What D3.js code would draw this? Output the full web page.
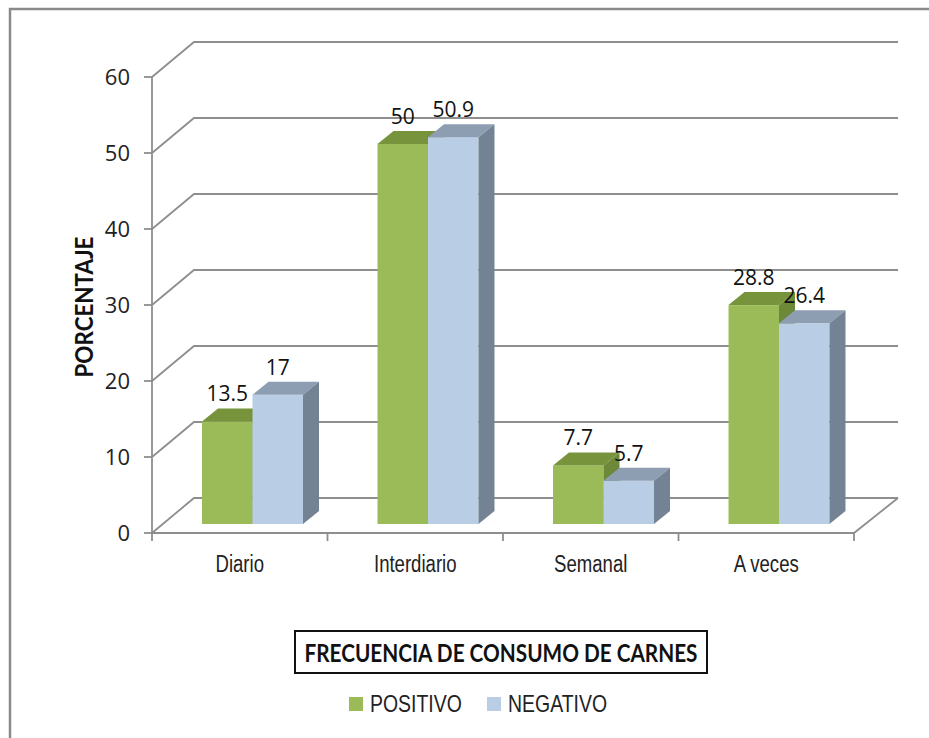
<!DOCTYPE html>
<html>
<head>
<meta charset="utf-8">
<title>Frecuencia de consumo de carnes</title>
<script src="https://cdn.jsdelivr.net/npm/d3@7"></script>
<style>
  body { margin: 0; background: #fff; }
  svg { display: block; }
</style>
</head>
<body>
<div id="chart"></div>
<script>
// data
var categories = ["Diario", "Interdiario", "Semanal", "A veces"];
var seriesNames = ["POSITIVO", "NEGATIVO"];
var positivo = [13.5, 50, 7.7, 28.8];
var negativo = [17, 50.9, 5.7, 26.4];
var yTicks = [0, 10, 20, 30, 40, 50, 60];

(function () {
  "use strict";

  var W = 929, H = 738;
  var svg = d3.select("#chart").append("svg").attr("width", W).attr("height", H);

  // wall depth (oblique projection) and bar offsets
  var DX = 42, DY = -35;
  var ox = 12, oy = -9;     // front plane of the bars
  var bx = 16, by = -13;    // bar depth

  var x0 = d3.scaleBand().domain(categories).range([152, 854]);
  var x1 = d3.scaleBand().domain(seriesNames).range([38, 139]);
  var y = d3.scaleLinear().domain([0, 60]).range([533, 77]);

  var colors = {
    POSITIVO: {front: "#9BBB59", top: "#77933C", side: "#6C8838"},
    NEGATIVO: {front: "#B9CDE5", top: "#8E9EB2", side: "#748393"}
  };

  var narrowFont = "'Liberation Sans', Arial, sans-serif";
  // no Arial Narrow here: squeeze the regular face
  function squeeze(k) {
    return function (sel) {
      sel.each(function () {
        var len = this.getComputedTextLength();
        d3.select(this).attr("textLength", len * k).attr("lengthAdjust", "spacingAndGlyphs");
      });
    };
  }

  // outer frame (only top and left visible)
  svg.append("path")
    .attr("d", "M10,738 L10,9 L929,9")
    .attr("fill", "none").attr("stroke", "#8a8a8a").attr("stroke-width", 2.5);

  var grid = svg.append("g").attr("fill", "none").attr("stroke", "#8E8E8E").attr("stroke-width", 1.8);
  var xl = x0.range()[0], xr = x0.range()[1];

  yTicks.forEach(function (t) {
    var yy = y(t);
    grid.append("path").attr("d", "M" + xl + "," + yy + " L" + (xl + DX) + "," + (yy + DY) + " L" + (xr + DX + 2) + "," + (yy + DY));
    grid.append("path").attr("d", "M" + (xl - 8) + "," + yy + " L" + xl + "," + yy);
  });
  // floor right edge + front edge
  grid.append("path").attr("d", "M" + (xr + DX + 2) + "," + (y(0) + DY) + " L" + xr + "," + y(0) + " L" + xl + "," + y(0));
  // vertical axis
  grid.append("path").attr("d", "M" + xl + "," + y(60) + " L" + xl + "," + y(0));
  // category ticks
  d3.range(categories.length + 1).forEach(function (i) {
    var xx = xl + i * x0.bandwidth();
    grid.append("path").attr("d", "M" + xx + "," + y(0) + " L" + xx + "," + (y(0) + 8));
  });

  // y tick labels
  svg.append("g").selectAll("text").data(yTicks).enter().append("text")
    .attr("x", 130).attr("y", function (d) { return y(d); })
    .attr("dy", "0.36em").attr("text-anchor", "end")
    .attr("font-family", "'Open Sans', sans-serif").attr("font-size", 22).attr("fill", "#222")
    .text(function (d) { return d; });

  // category labels
  svg.append("g").selectAll("text").data(categories).enter().append("text")
    .attr("x", function (d) { return x0(d) + x0.bandwidth() / 2; })
    .attr("y", 572).attr("text-anchor", "middle")
    .attr("font-family", narrowFont)
    .attr("font-size", 23.5).attr("fill", "#222")
    .text(function (d) { return d; })
    .call(squeeze(0.79));

  // bars
  var rows = [];
  categories.forEach(function (c, i) {
    rows.push({cat: c, s: "POSITIVO", v: positivo[i]});
    rows.push({cat: c, s: "NEGATIVO", v: negativo[i]});
  });

  var bars = svg.append("g");
  rows.forEach(function (d) {
    var w = x1.bandwidth();
    var x = x0(d.cat) + x1(d.s) + ox;
    var top = y(d.v) + oy, base = y(0) + oy;
    var col = colors[d.s];
    var g = bars.append("g");
    g.append("rect").attr("x", x).attr("y", top).attr("width", w).attr("height", base - top).attr("fill", col.front);
    g.append("polygon").attr("fill", col.top)
      .attr("points", [[x, top], [x + w, top], [x + w + bx, top + by], [x + bx, top + by]].join(" "));
    g.append("polygon").attr("fill", col.side)
      .attr("points", [[x + w, top], [x + w + bx, top + by], [x + w + bx, base + by], [x + w, base]].join(" "));
    d.lx = x + w / 2;
    d.ly = top + by - 7;
  });

  // data labels
  svg.append("g").selectAll("text").data(rows).enter().append("text")
    .attr("x", function (d) { return d.lx; }).attr("y", function (d) { return d.ly; })
    .attr("text-anchor", "middle")
    .attr("font-family", "'Open Sans', sans-serif").attr("font-size", 21).attr("fill", "#111")
    .text(function (d) { return d.v; });

  // y axis title
  svg.append("text")
    .attr("transform", "translate(93,307) rotate(-90)")
    .attr("text-anchor", "middle")
    .attr("font-family", "Lato, sans-serif").attr("font-weight", "bold").attr("font-size", 24.5).attr("fill", "#111")
    .attr("textLength", 141).attr("lengthAdjust", "spacingAndGlyphs")
    .text("PORCENTAJE");

  // x axis title in a box
  svg.append("text")
    .attr("x", 501).attr("y", 662).attr("text-anchor", "middle")
    .attr("font-family", "Lato, sans-serif").attr("font-weight", "bold").attr("font-size", 24).attr("fill", "#111")
    .attr("textLength", 393).attr("lengthAdjust", "spacingAndGlyphs")
    .text("FRECUENCIA DE CONSUMO DE CARNES");
  svg.append("rect").attr("x", 295).attr("y", 631).attr("width", 412).attr("height", 42)
    .attr("fill", "none").attr("stroke", "#111").attr("stroke-width", 2);

  // legend
  var legX = [349, 487];
  var leg = svg.append("g").selectAll("g").data(seriesNames).enter().append("g")
    .attr("transform", function (d, i) { return "translate(" + legX[i] + ",697)"; });
  leg.append("rect").attr("width", 14).attr("height", 14)
    .attr("fill", function (d) { return colors[d].front; });
  leg.append("text").attr("x", 21).attr("y", 15)
    .attr("font-family", narrowFont)
    .attr("font-size", 24).attr("fill", "#222")
    .text(function (d) { return d; })
    .call(squeeze(0.81));
})();
</script>
</body>
</html>
